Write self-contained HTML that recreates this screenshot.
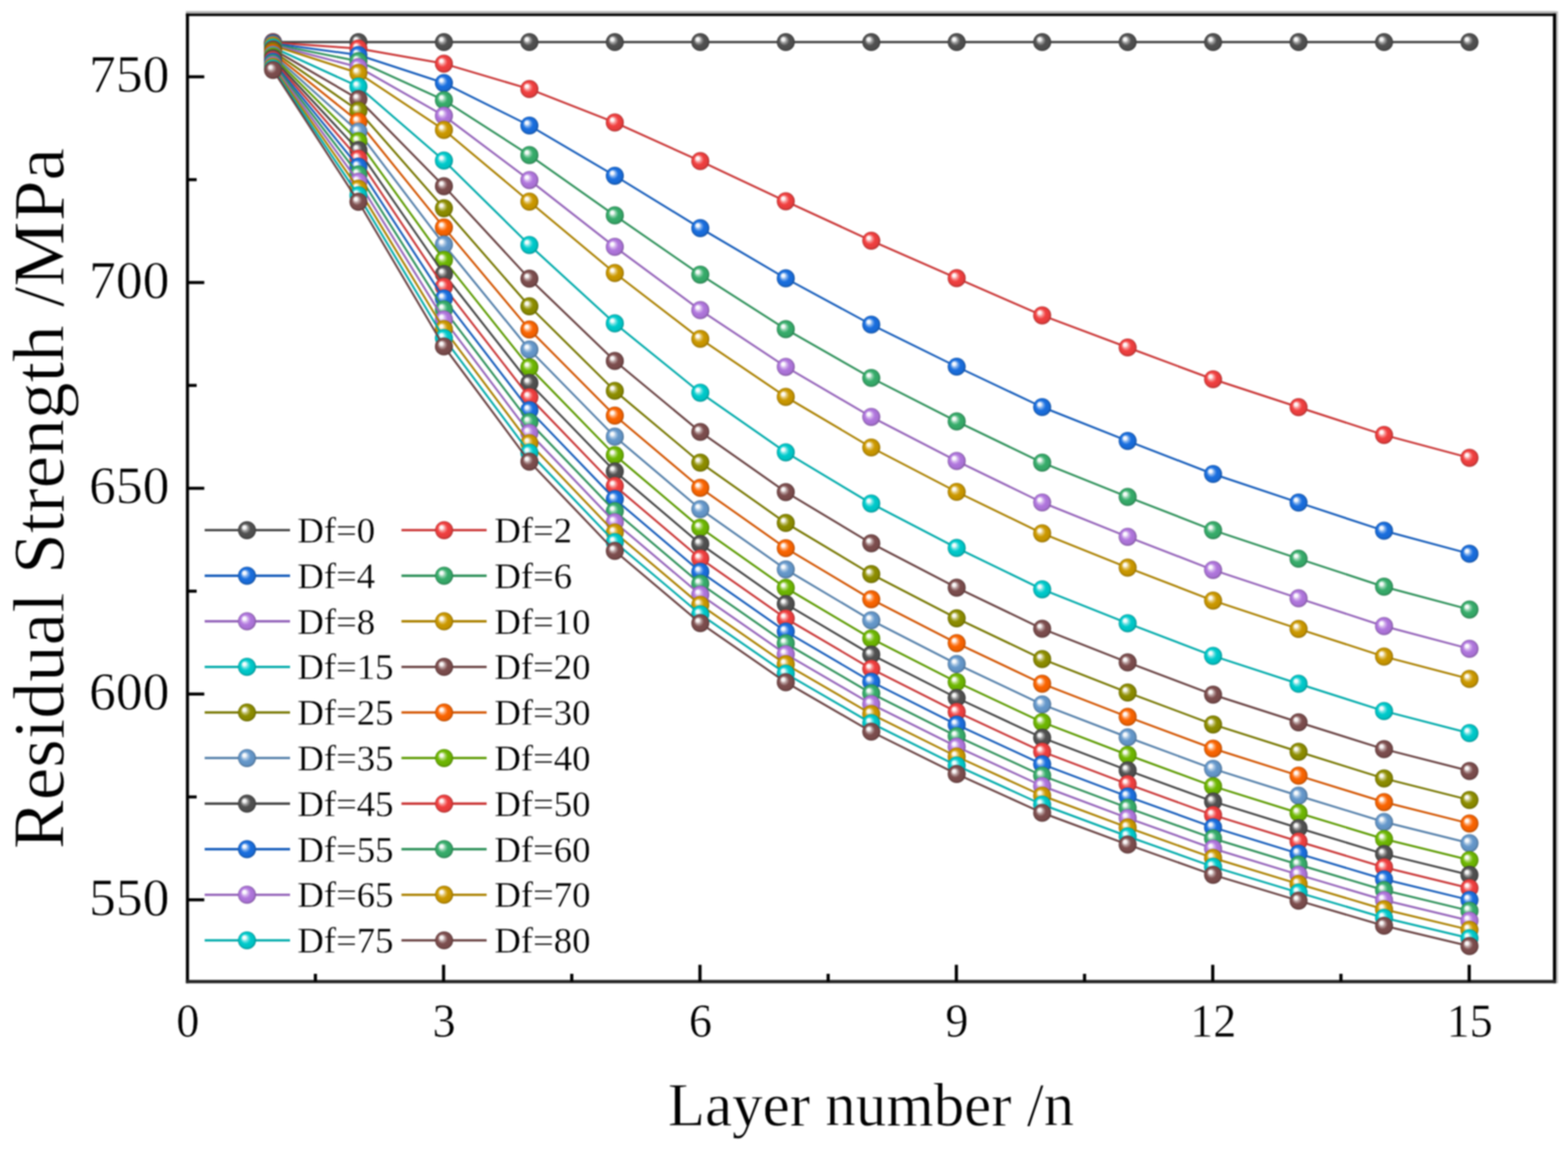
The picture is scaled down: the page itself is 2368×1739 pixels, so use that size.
<!DOCTYPE html>
<html lang="en"><head><meta charset="utf-8"><title>Residual Strength vs Layer number</title>
<style>html,body{margin:0;padding:0;background:#fff}body{width:2368px;height:1739px;overflow:hidden}svg{display:block;filter:blur(0.85px)}#legend text{stroke-width:0.35px}#xlabels text{stroke-width:0.6px}#ytitle{stroke-width:1px}text{font-family:"Liberation Serif","DejaVu Serif",serif;fill:#000;stroke:#fff;stroke-width:0.8px;paint-order:fill stroke}</style></head><body>
<svg width="2368" height="1739" viewBox="0 0 2368 1739">
<defs>
<radialGradient id="g0" cx="0.5" cy="0.5" r="0.5" fx="0.32" fy="0.31"><stop offset="0" stop-color="#f8f8f8"/><stop offset="0.17" stop-color="#f8f8f8"/><stop offset="0.34" stop-color="#9f9f9f"/><stop offset="0.56" stop-color="#515151"/><stop offset="0.85" stop-color="#4c4c4c"/><stop offset="1" stop-color="#393939"/></radialGradient>
<radialGradient id="g1" cx="0.5" cy="0.5" r="0.5" fx="0.32" fy="0.31"><stop offset="0" stop-color="#fef7f7"/><stop offset="0.17" stop-color="#fef7f7"/><stop offset="0.34" stop-color="#f79696"/><stop offset="0.56" stop-color="#F14040"/><stop offset="0.85" stop-color="#e33c3c"/><stop offset="1" stop-color="#a92d2d"/></radialGradient>
<radialGradient id="g2" cx="0.5" cy="0.5" r="0.5" fx="0.32" fy="0.31"><stop offset="0" stop-color="#f6f9fe"/><stop offset="0.17" stop-color="#f6f9fe"/><stop offset="0.34" stop-color="#81b0ed"/><stop offset="0.56" stop-color="#1A6FDF"/><stop offset="0.85" stop-color="#1868d2"/><stop offset="1" stop-color="#124e9c"/></radialGradient>
<radialGradient id="g3" cx="0.5" cy="0.5" r="0.5" fx="0.32" fy="0.31"><stop offset="0" stop-color="#f7fcf9"/><stop offset="0.17" stop-color="#f7fcf9"/><stop offset="0.34" stop-color="#91d2ae"/><stop offset="0.56" stop-color="#37AD6B"/><stop offset="0.85" stop-color="#34a365"/><stop offset="1" stop-color="#26794b"/></radialGradient>
<radialGradient id="g4" cx="0.5" cy="0.5" r="0.5" fx="0.32" fy="0.31"><stop offset="0" stop-color="#fcfafe"/><stop offset="0.17" stop-color="#fcfafe"/><stop offset="0.34" stop-color="#d4b4ed"/><stop offset="0.56" stop-color="#B177DE"/><stop offset="0.85" stop-color="#a670d1"/><stop offset="1" stop-color="#7c539b"/></radialGradient>
<radialGradient id="g5" cx="0.5" cy="0.5" r="0.5" fx="0.32" fy="0.31"><stop offset="0" stop-color="#fdfbf5"/><stop offset="0.17" stop-color="#fdfbf5"/><stop offset="0.34" stop-color="#e3c773"/><stop offset="0.56" stop-color="#CC9900"/><stop offset="0.85" stop-color="#c09000"/><stop offset="1" stop-color="#8f6b00"/></radialGradient>
<radialGradient id="g6" cx="0.5" cy="0.5" r="0.5" fx="0.32" fy="0.31"><stop offset="0" stop-color="#f5fdfd"/><stop offset="0.17" stop-color="#f5fdfd"/><stop offset="0.34" stop-color="#73e2e3"/><stop offset="0.56" stop-color="#00CBCC"/><stop offset="0.85" stop-color="#00bfc0"/><stop offset="1" stop-color="#008e8f"/></radialGradient>
<radialGradient id="g7" cx="0.5" cy="0.5" r="0.5" fx="0.32" fy="0.31"><stop offset="0" stop-color="#faf8f8"/><stop offset="0.17" stop-color="#faf8f8"/><stop offset="0.34" stop-color="#b89e9e"/><stop offset="0.56" stop-color="#7D4E4E"/><stop offset="0.85" stop-color="#764949"/><stop offset="1" stop-color="#583737"/></radialGradient>
<radialGradient id="g8" cx="0.5" cy="0.5" r="0.5" fx="0.32" fy="0.31"><stop offset="0" stop-color="#fafaf5"/><stop offset="0.17" stop-color="#fafaf5"/><stop offset="0.34" stop-color="#c1c173"/><stop offset="0.56" stop-color="#8E8E00"/><stop offset="0.85" stop-color="#858500"/><stop offset="1" stop-color="#636300"/></radialGradient>
<radialGradient id="g9" cx="0.5" cy="0.5" r="0.5" fx="0.32" fy="0.31"><stop offset="0" stop-color="#fff9f5"/><stop offset="0.17" stop-color="#fff9f5"/><stop offset="0.34" stop-color="#fdaa73"/><stop offset="0.56" stop-color="#FB6501"/><stop offset="0.85" stop-color="#ec5f01"/><stop offset="1" stop-color="#b04701"/></radialGradient>
<radialGradient id="g10" cx="0.5" cy="0.5" r="0.5" fx="0.32" fy="0.31"><stop offset="0" stop-color="#f9fbfd"/><stop offset="0.17" stop-color="#f9fbfd"/><stop offset="0.34" stop-color="#abc7e3"/><stop offset="0.56" stop-color="#6699CC"/><stop offset="0.85" stop-color="#6090c0"/><stop offset="1" stop-color="#476b8f"/></radialGradient>
<radialGradient id="g11" cx="0.5" cy="0.5" r="0.5" fx="0.32" fy="0.31"><stop offset="0" stop-color="#f9fcf5"/><stop offset="0.17" stop-color="#f9fcf5"/><stop offset="0.34" stop-color="#b0d874"/><stop offset="0.56" stop-color="#6FB802"/><stop offset="0.85" stop-color="#68ad02"/><stop offset="1" stop-color="#4e8101"/></radialGradient>
</defs>
<rect width="2368" height="1739" fill="#fff"/>
<g id="plot">
<g><polyline fill="none" stroke="#444444" stroke-width="3.6" stroke-linejoin="round" points="412.3,63.5 541.3,63.5 670.4,63.5 799.5,63.5 928.5,63.5 1057.6,63.5 1186.7,63.5 1315.8,63.5 1444.8,63.5 1573.9,63.5 1703.0,63.5 1832.0,63.5 1961.1,63.5 2090.2,63.5 2219.2,63.5"/>
<circle cx="412.3" cy="63.5" r="13.6" fill="url(#g0)"/><circle cx="541.3" cy="63.5" r="13.6" fill="url(#g0)"/><circle cx="670.4" cy="63.5" r="13.6" fill="url(#g0)"/><circle cx="799.5" cy="63.5" r="13.6" fill="url(#g0)"/><circle cx="928.5" cy="63.5" r="13.6" fill="url(#g0)"/><circle cx="1057.6" cy="63.5" r="13.6" fill="url(#g0)"/><circle cx="1186.7" cy="63.5" r="13.6" fill="url(#g0)"/><circle cx="1315.8" cy="63.5" r="13.6" fill="url(#g0)"/><circle cx="1444.8" cy="63.5" r="13.6" fill="url(#g0)"/><circle cx="1573.9" cy="63.5" r="13.6" fill="url(#g0)"/><circle cx="1703.0" cy="63.5" r="13.6" fill="url(#g0)"/><circle cx="1832.0" cy="63.5" r="13.6" fill="url(#g0)"/><circle cx="1961.1" cy="63.5" r="13.6" fill="url(#g0)"/><circle cx="2090.2" cy="63.5" r="13.6" fill="url(#g0)"/><circle cx="2219.2" cy="63.5" r="13.6" fill="url(#g0)"/></g>
<g><polyline fill="none" stroke="#ca3636" stroke-width="3.0" stroke-linejoin="round" points="412.3,64.3 541.3,73.3 670.4,96.1 799.5,134.4 928.5,184.9 1057.6,243.2 1186.7,303.8 1315.8,363.3 1444.8,419.9 1573.9,476.1 1703.0,524.5 1832.0,572.5 1961.1,614.7 2090.2,656.6 2219.2,691.1"/>
<circle cx="412.3" cy="64.3" r="13.6" fill="url(#g1)"/><circle cx="541.3" cy="73.3" r="13.6" fill="url(#g1)"/><circle cx="670.4" cy="96.1" r="13.6" fill="url(#g1)"/><circle cx="799.5" cy="134.4" r="13.6" fill="url(#g1)"/><circle cx="928.5" cy="184.9" r="13.6" fill="url(#g1)"/><circle cx="1057.6" cy="243.2" r="13.6" fill="url(#g1)"/><circle cx="1186.7" cy="303.8" r="13.6" fill="url(#g1)"/><circle cx="1315.8" cy="363.3" r="13.6" fill="url(#g1)"/><circle cx="1444.8" cy="419.9" r="13.6" fill="url(#g1)"/><circle cx="1573.9" cy="476.1" r="13.6" fill="url(#g1)"/><circle cx="1703.0" cy="524.5" r="13.6" fill="url(#g1)"/><circle cx="1832.0" cy="572.5" r="13.6" fill="url(#g1)"/><circle cx="1961.1" cy="614.7" r="13.6" fill="url(#g1)"/><circle cx="2090.2" cy="656.6" r="13.6" fill="url(#g1)"/><circle cx="2219.2" cy="691.1" r="13.6" fill="url(#g1)"/></g>
<g><polyline fill="none" stroke="#165dbb" stroke-width="3.0" stroke-linejoin="round" points="412.3,65.4 541.3,83.0 670.4,125.3 799.5,189.5 928.5,265.3 1057.6,344.4 1186.7,420.2 1315.8,490.0 1444.8,553.5 1573.9,614.5 1703.0,665.6 1832.0,715.5 1961.1,758.7 2090.2,801.2 2219.2,835.9"/>
<circle cx="412.3" cy="65.4" r="13.6" fill="url(#g2)"/><circle cx="541.3" cy="83.0" r="13.6" fill="url(#g2)"/><circle cx="670.4" cy="125.3" r="13.6" fill="url(#g2)"/><circle cx="799.5" cy="189.5" r="13.6" fill="url(#g2)"/><circle cx="928.5" cy="265.3" r="13.6" fill="url(#g2)"/><circle cx="1057.6" cy="344.4" r="13.6" fill="url(#g2)"/><circle cx="1186.7" cy="420.2" r="13.6" fill="url(#g2)"/><circle cx="1315.8" cy="490.0" r="13.6" fill="url(#g2)"/><circle cx="1444.8" cy="553.5" r="13.6" fill="url(#g2)"/><circle cx="1573.9" cy="614.5" r="13.6" fill="url(#g2)"/><circle cx="1703.0" cy="665.6" r="13.6" fill="url(#g2)"/><circle cx="1832.0" cy="715.5" r="13.6" fill="url(#g2)"/><circle cx="1961.1" cy="758.7" r="13.6" fill="url(#g2)"/><circle cx="2090.2" cy="801.2" r="13.6" fill="url(#g2)"/><circle cx="2219.2" cy="835.9" r="13.6" fill="url(#g2)"/></g>
<g><polyline fill="none" stroke="#2e915a" stroke-width="3.0" stroke-linejoin="round" points="412.3,66.6 541.3,92.4 670.4,151.2 799.5,234.2 928.5,325.2 1057.6,414.6 1186.7,496.9 1315.8,570.5 1444.8,636.2 1573.9,698.4 1703.0,750.1 1832.0,800.3 1961.1,843.4 2090.2,885.7 2219.2,920.1"/>
<circle cx="412.3" cy="66.6" r="13.6" fill="url(#g3)"/><circle cx="541.3" cy="92.4" r="13.6" fill="url(#g3)"/><circle cx="670.4" cy="151.2" r="13.6" fill="url(#g3)"/><circle cx="799.5" cy="234.2" r="13.6" fill="url(#g3)"/><circle cx="928.5" cy="325.2" r="13.6" fill="url(#g3)"/><circle cx="1057.6" cy="414.6" r="13.6" fill="url(#g3)"/><circle cx="1186.7" cy="496.9" r="13.6" fill="url(#g3)"/><circle cx="1315.8" cy="570.5" r="13.6" fill="url(#g3)"/><circle cx="1444.8" cy="636.2" r="13.6" fill="url(#g3)"/><circle cx="1573.9" cy="698.4" r="13.6" fill="url(#g3)"/><circle cx="1703.0" cy="750.1" r="13.6" fill="url(#g3)"/><circle cx="1832.0" cy="800.3" r="13.6" fill="url(#g3)"/><circle cx="1961.1" cy="843.4" r="13.6" fill="url(#g3)"/><circle cx="2090.2" cy="885.7" r="13.6" fill="url(#g3)"/><circle cx="2219.2" cy="920.1" r="13.6" fill="url(#g3)"/></g>
<g><polyline fill="none" stroke="#9564ba" stroke-width="3.0" stroke-linejoin="round" points="412.3,67.7 541.3,101.4 670.4,174.7 799.5,271.8 928.5,372.7 1057.6,468.2 1186.7,553.8 1315.8,629.3 1444.8,695.9 1573.9,758.5 1703.0,810.3 1832.0,860.3 1961.1,903.2 2090.2,945.2 2219.2,979.4"/>
<circle cx="412.3" cy="67.7" r="13.6" fill="url(#g4)"/><circle cx="541.3" cy="101.4" r="13.6" fill="url(#g4)"/><circle cx="670.4" cy="174.7" r="13.6" fill="url(#g4)"/><circle cx="799.5" cy="271.8" r="13.6" fill="url(#g4)"/><circle cx="928.5" cy="372.7" r="13.6" fill="url(#g4)"/><circle cx="1057.6" cy="468.2" r="13.6" fill="url(#g4)"/><circle cx="1186.7" cy="553.8" r="13.6" fill="url(#g4)"/><circle cx="1315.8" cy="629.3" r="13.6" fill="url(#g4)"/><circle cx="1444.8" cy="695.9" r="13.6" fill="url(#g4)"/><circle cx="1573.9" cy="758.5" r="13.6" fill="url(#g4)"/><circle cx="1703.0" cy="810.3" r="13.6" fill="url(#g4)"/><circle cx="1832.0" cy="860.3" r="13.6" fill="url(#g4)"/><circle cx="1961.1" cy="903.2" r="13.6" fill="url(#g4)"/><circle cx="2090.2" cy="945.2" r="13.6" fill="url(#g4)"/><circle cx="2219.2" cy="979.4" r="13.6" fill="url(#g4)"/></g>
<g><polyline fill="none" stroke="#ab8100" stroke-width="3.0" stroke-linejoin="round" points="412.3,68.8 541.3,110.2 670.4,196.1 799.5,304.3 928.5,412.1 1057.6,511.5 1186.7,599.1 1315.8,675.5 1444.8,742.5 1573.9,805.1 1703.0,856.8 1832.0,906.6 1961.1,949.3 2090.2,991.1 2219.2,1024.9"/>
<circle cx="412.3" cy="68.8" r="13.6" fill="url(#g5)"/><circle cx="541.3" cy="110.2" r="13.6" fill="url(#g5)"/><circle cx="670.4" cy="196.1" r="13.6" fill="url(#g5)"/><circle cx="799.5" cy="304.3" r="13.6" fill="url(#g5)"/><circle cx="928.5" cy="412.1" r="13.6" fill="url(#g5)"/><circle cx="1057.6" cy="511.5" r="13.6" fill="url(#g5)"/><circle cx="1186.7" cy="599.1" r="13.6" fill="url(#g5)"/><circle cx="1315.8" cy="675.5" r="13.6" fill="url(#g5)"/><circle cx="1444.8" cy="742.5" r="13.6" fill="url(#g5)"/><circle cx="1573.9" cy="805.1" r="13.6" fill="url(#g5)"/><circle cx="1703.0" cy="856.8" r="13.6" fill="url(#g5)"/><circle cx="1832.0" cy="906.6" r="13.6" fill="url(#g5)"/><circle cx="1961.1" cy="949.3" r="13.6" fill="url(#g5)"/><circle cx="2090.2" cy="991.1" r="13.6" fill="url(#g5)"/><circle cx="2219.2" cy="1024.9" r="13.6" fill="url(#g5)"/></g>
<g><polyline fill="none" stroke="#00abab" stroke-width="3.0" stroke-linejoin="round" points="412.3,71.6 541.3,130.7 670.4,242.4 799.5,369.8 928.5,488.2 1057.6,592.8 1186.7,682.8 1315.8,760.1 1444.8,827.2 1573.9,889.6 1703.0,940.9 1832.0,990.1 1961.1,1032.2 2090.2,1073.4 2219.2,1106.7"/>
<circle cx="412.3" cy="71.6" r="13.6" fill="url(#g6)"/><circle cx="541.3" cy="130.7" r="13.6" fill="url(#g6)"/><circle cx="670.4" cy="242.4" r="13.6" fill="url(#g6)"/><circle cx="799.5" cy="369.8" r="13.6" fill="url(#g6)"/><circle cx="928.5" cy="488.2" r="13.6" fill="url(#g6)"/><circle cx="1057.6" cy="592.8" r="13.6" fill="url(#g6)"/><circle cx="1186.7" cy="682.8" r="13.6" fill="url(#g6)"/><circle cx="1315.8" cy="760.1" r="13.6" fill="url(#g6)"/><circle cx="1444.8" cy="827.2" r="13.6" fill="url(#g6)"/><circle cx="1573.9" cy="889.6" r="13.6" fill="url(#g6)"/><circle cx="1703.0" cy="940.9" r="13.6" fill="url(#g6)"/><circle cx="1832.0" cy="990.1" r="13.6" fill="url(#g6)"/><circle cx="1961.1" cy="1032.2" r="13.6" fill="url(#g6)"/><circle cx="2090.2" cy="1073.4" r="13.6" fill="url(#g6)"/><circle cx="2219.2" cy="1106.7" r="13.6" fill="url(#g6)"/></g>
<g><polyline fill="none" stroke="#694242" stroke-width="3.0" stroke-linejoin="round" points="412.3,74.4 541.3,149.6 670.4,281.1 799.5,420.7 928.5,544.9 1057.6,652.0 1186.7,742.8 1315.8,820.2 1444.8,887.1 1573.9,949.1 1703.0,999.9 1832.0,1048.7 1961.1,1090.3 2090.2,1130.9 2219.2,1163.8"/>
<circle cx="412.3" cy="74.4" r="13.6" fill="url(#g7)"/><circle cx="541.3" cy="149.6" r="13.6" fill="url(#g7)"/><circle cx="670.4" cy="281.1" r="13.6" fill="url(#g7)"/><circle cx="799.5" cy="420.7" r="13.6" fill="url(#g7)"/><circle cx="928.5" cy="544.9" r="13.6" fill="url(#g7)"/><circle cx="1057.6" cy="652.0" r="13.6" fill="url(#g7)"/><circle cx="1186.7" cy="742.8" r="13.6" fill="url(#g7)"/><circle cx="1315.8" cy="820.2" r="13.6" fill="url(#g7)"/><circle cx="1444.8" cy="887.1" r="13.6" fill="url(#g7)"/><circle cx="1573.9" cy="949.1" r="13.6" fill="url(#g7)"/><circle cx="1703.0" cy="999.9" r="13.6" fill="url(#g7)"/><circle cx="1832.0" cy="1048.7" r="13.6" fill="url(#g7)"/><circle cx="1961.1" cy="1090.3" r="13.6" fill="url(#g7)"/><circle cx="2090.2" cy="1130.9" r="13.6" fill="url(#g7)"/><circle cx="2219.2" cy="1163.8" r="13.6" fill="url(#g7)"/></g>
<g><polyline fill="none" stroke="#777700" stroke-width="3.0" stroke-linejoin="round" points="412.3,77.2 541.3,167.1 670.4,314.3 799.5,462.3 928.5,590.0 1057.6,698.3 1186.7,789.4 1315.8,866.7 1444.8,933.3 1573.9,994.9 1703.0,1045.3 1832.0,1093.6 1961.1,1134.8 2090.2,1175.1 2219.2,1207.6"/>
<circle cx="412.3" cy="77.2" r="13.6" fill="url(#g8)"/><circle cx="541.3" cy="167.1" r="13.6" fill="url(#g8)"/><circle cx="670.4" cy="314.3" r="13.6" fill="url(#g8)"/><circle cx="799.5" cy="462.3" r="13.6" fill="url(#g8)"/><circle cx="928.5" cy="590.0" r="13.6" fill="url(#g8)"/><circle cx="1057.6" cy="698.3" r="13.6" fill="url(#g8)"/><circle cx="1186.7" cy="789.4" r="13.6" fill="url(#g8)"/><circle cx="1315.8" cy="866.7" r="13.6" fill="url(#g8)"/><circle cx="1444.8" cy="933.3" r="13.6" fill="url(#g8)"/><circle cx="1573.9" cy="994.9" r="13.6" fill="url(#g8)"/><circle cx="1703.0" cy="1045.3" r="13.6" fill="url(#g8)"/><circle cx="1832.0" cy="1093.6" r="13.6" fill="url(#g8)"/><circle cx="1961.1" cy="1134.8" r="13.6" fill="url(#g8)"/><circle cx="2090.2" cy="1175.1" r="13.6" fill="url(#g8)"/><circle cx="2219.2" cy="1207.6" r="13.6" fill="url(#g8)"/></g>
<g><polyline fill="none" stroke="#d35501" stroke-width="3.0" stroke-linejoin="round" points="412.3,79.9 541.3,183.5 670.4,343.4 799.5,497.4 928.5,627.4 1057.6,736.4 1186.7,827.5 1315.8,904.6 1444.8,970.8 1573.9,1032.1 1703.0,1082.1 1832.0,1130.0 1961.1,1170.9 2090.2,1210.8 2219.2,1243.1"/>
<circle cx="412.3" cy="79.9" r="13.6" fill="url(#g9)"/><circle cx="541.3" cy="183.5" r="13.6" fill="url(#g9)"/><circle cx="670.4" cy="343.4" r="13.6" fill="url(#g9)"/><circle cx="799.5" cy="497.4" r="13.6" fill="url(#g9)"/><circle cx="928.5" cy="627.4" r="13.6" fill="url(#g9)"/><circle cx="1057.6" cy="736.4" r="13.6" fill="url(#g9)"/><circle cx="1186.7" cy="827.5" r="13.6" fill="url(#g9)"/><circle cx="1315.8" cy="904.6" r="13.6" fill="url(#g9)"/><circle cx="1444.8" cy="970.8" r="13.6" fill="url(#g9)"/><circle cx="1573.9" cy="1032.1" r="13.6" fill="url(#g9)"/><circle cx="1703.0" cy="1082.1" r="13.6" fill="url(#g9)"/><circle cx="1832.0" cy="1130.0" r="13.6" fill="url(#g9)"/><circle cx="1961.1" cy="1170.9" r="13.6" fill="url(#g9)"/><circle cx="2090.2" cy="1210.8" r="13.6" fill="url(#g9)"/><circle cx="2219.2" cy="1243.1" r="13.6" fill="url(#g9)"/></g>
<g><polyline fill="none" stroke="#5681ab" stroke-width="3.0" stroke-linejoin="round" points="412.3,82.6 541.3,198.8 670.4,369.2 799.5,527.7 928.5,659.2 1057.6,768.6 1186.7,859.6 1315.8,936.4 1444.8,1002.4 1573.9,1063.3 1703.0,1113.0 1832.0,1160.6 1961.1,1201.2 2090.2,1240.8 2219.2,1272.8"/>
<circle cx="412.3" cy="82.6" r="13.6" fill="url(#g10)"/><circle cx="541.3" cy="198.8" r="13.6" fill="url(#g10)"/><circle cx="670.4" cy="369.2" r="13.6" fill="url(#g10)"/><circle cx="799.5" cy="527.7" r="13.6" fill="url(#g10)"/><circle cx="928.5" cy="659.2" r="13.6" fill="url(#g10)"/><circle cx="1057.6" cy="768.6" r="13.6" fill="url(#g10)"/><circle cx="1186.7" cy="859.6" r="13.6" fill="url(#g10)"/><circle cx="1315.8" cy="936.4" r="13.6" fill="url(#g10)"/><circle cx="1444.8" cy="1002.4" r="13.6" fill="url(#g10)"/><circle cx="1573.9" cy="1063.3" r="13.6" fill="url(#g10)"/><circle cx="1703.0" cy="1113.0" r="13.6" fill="url(#g10)"/><circle cx="1832.0" cy="1160.6" r="13.6" fill="url(#g10)"/><circle cx="1961.1" cy="1201.2" r="13.6" fill="url(#g10)"/><circle cx="2090.2" cy="1240.8" r="13.6" fill="url(#g10)"/><circle cx="2219.2" cy="1272.8" r="13.6" fill="url(#g10)"/></g>
<g><polyline fill="none" stroke="#5d9b02" stroke-width="3.0" stroke-linejoin="round" points="412.3,85.3 541.3,213.1 670.4,392.4 799.5,554.4 928.5,687.0 1057.6,796.5 1186.7,887.4 1315.8,963.9 1444.8,1029.6 1573.9,1090.1 1703.0,1139.5 1832.0,1186.9 1961.1,1227.2 2090.2,1266.5 2219.2,1298.3"/>
<circle cx="412.3" cy="85.3" r="13.6" fill="url(#g11)"/><circle cx="541.3" cy="213.1" r="13.6" fill="url(#g11)"/><circle cx="670.4" cy="392.4" r="13.6" fill="url(#g11)"/><circle cx="799.5" cy="554.4" r="13.6" fill="url(#g11)"/><circle cx="928.5" cy="687.0" r="13.6" fill="url(#g11)"/><circle cx="1057.6" cy="796.5" r="13.6" fill="url(#g11)"/><circle cx="1186.7" cy="887.4" r="13.6" fill="url(#g11)"/><circle cx="1315.8" cy="963.9" r="13.6" fill="url(#g11)"/><circle cx="1444.8" cy="1029.6" r="13.6" fill="url(#g11)"/><circle cx="1573.9" cy="1090.1" r="13.6" fill="url(#g11)"/><circle cx="1703.0" cy="1139.5" r="13.6" fill="url(#g11)"/><circle cx="1832.0" cy="1186.9" r="13.6" fill="url(#g11)"/><circle cx="1961.1" cy="1227.2" r="13.6" fill="url(#g11)"/><circle cx="2090.2" cy="1266.5" r="13.6" fill="url(#g11)"/><circle cx="2219.2" cy="1298.3" r="13.6" fill="url(#g11)"/></g>
<g><polyline fill="none" stroke="#444444" stroke-width="3.0" stroke-linejoin="round" points="412.3,87.9 541.3,226.7 670.4,413.5 799.5,578.2 928.5,711.5 1057.6,821.1 1186.7,911.8 1315.8,988.1 1444.8,1053.5 1573.9,1113.7 1703.0,1162.9 1832.0,1209.9 1961.1,1250.0 2090.2,1289.1 2219.2,1320.7"/>
<circle cx="412.3" cy="87.9" r="13.6" fill="url(#g0)"/><circle cx="541.3" cy="226.7" r="13.6" fill="url(#g0)"/><circle cx="670.4" cy="413.5" r="13.6" fill="url(#g0)"/><circle cx="799.5" cy="578.2" r="13.6" fill="url(#g0)"/><circle cx="928.5" cy="711.5" r="13.6" fill="url(#g0)"/><circle cx="1057.6" cy="821.1" r="13.6" fill="url(#g0)"/><circle cx="1186.7" cy="911.8" r="13.6" fill="url(#g0)"/><circle cx="1315.8" cy="988.1" r="13.6" fill="url(#g0)"/><circle cx="1444.8" cy="1053.5" r="13.6" fill="url(#g0)"/><circle cx="1573.9" cy="1113.7" r="13.6" fill="url(#g0)"/><circle cx="1703.0" cy="1162.9" r="13.6" fill="url(#g0)"/><circle cx="1832.0" cy="1209.9" r="13.6" fill="url(#g0)"/><circle cx="1961.1" cy="1250.0" r="13.6" fill="url(#g0)"/><circle cx="2090.2" cy="1289.1" r="13.6" fill="url(#g0)"/><circle cx="2219.2" cy="1320.7" r="13.6" fill="url(#g0)"/></g>
<g><polyline fill="none" stroke="#ca3636" stroke-width="3.0" stroke-linejoin="round" points="412.3,90.5 541.3,239.5 670.4,432.8 799.5,599.6 928.5,733.5 1057.6,843.1 1186.7,933.6 1315.8,1009.6 1444.8,1074.7 1573.9,1134.7 1703.0,1183.6 1832.0,1230.4 1961.1,1270.3 2090.2,1309.2 2219.2,1340.7"/>
<circle cx="412.3" cy="90.5" r="13.6" fill="url(#g1)"/><circle cx="541.3" cy="239.5" r="13.6" fill="url(#g1)"/><circle cx="670.4" cy="432.8" r="13.6" fill="url(#g1)"/><circle cx="799.5" cy="599.6" r="13.6" fill="url(#g1)"/><circle cx="928.5" cy="733.5" r="13.6" fill="url(#g1)"/><circle cx="1057.6" cy="843.1" r="13.6" fill="url(#g1)"/><circle cx="1186.7" cy="933.6" r="13.6" fill="url(#g1)"/><circle cx="1315.8" cy="1009.6" r="13.6" fill="url(#g1)"/><circle cx="1444.8" cy="1074.7" r="13.6" fill="url(#g1)"/><circle cx="1573.9" cy="1134.7" r="13.6" fill="url(#g1)"/><circle cx="1703.0" cy="1183.6" r="13.6" fill="url(#g1)"/><circle cx="1832.0" cy="1230.4" r="13.6" fill="url(#g1)"/><circle cx="1961.1" cy="1270.3" r="13.6" fill="url(#g1)"/><circle cx="2090.2" cy="1309.2" r="13.6" fill="url(#g1)"/><circle cx="2219.2" cy="1340.7" r="13.6" fill="url(#g1)"/></g>
<g><polyline fill="none" stroke="#165dbb" stroke-width="3.0" stroke-linejoin="round" points="412.3,93.1 541.3,251.7 670.4,450.6 799.5,619.2 928.5,753.4 1057.6,863.0 1186.7,953.3 1315.8,1029.0 1444.8,1093.9 1573.9,1153.6 1703.0,1202.3 1832.0,1248.9 1961.1,1288.6 2090.2,1327.3 2219.2,1358.6"/>
<circle cx="412.3" cy="93.1" r="13.6" fill="url(#g2)"/><circle cx="541.3" cy="251.7" r="13.6" fill="url(#g2)"/><circle cx="670.4" cy="450.6" r="13.6" fill="url(#g2)"/><circle cx="799.5" cy="619.2" r="13.6" fill="url(#g2)"/><circle cx="928.5" cy="753.4" r="13.6" fill="url(#g2)"/><circle cx="1057.6" cy="863.0" r="13.6" fill="url(#g2)"/><circle cx="1186.7" cy="953.3" r="13.6" fill="url(#g2)"/><circle cx="1315.8" cy="1029.0" r="13.6" fill="url(#g2)"/><circle cx="1444.8" cy="1093.9" r="13.6" fill="url(#g2)"/><circle cx="1573.9" cy="1153.6" r="13.6" fill="url(#g2)"/><circle cx="1703.0" cy="1202.3" r="13.6" fill="url(#g2)"/><circle cx="1832.0" cy="1248.9" r="13.6" fill="url(#g2)"/><circle cx="1961.1" cy="1288.6" r="13.6" fill="url(#g2)"/><circle cx="2090.2" cy="1327.3" r="13.6" fill="url(#g2)"/><circle cx="2219.2" cy="1358.6" r="13.6" fill="url(#g2)"/></g>
<g><polyline fill="none" stroke="#2e915a" stroke-width="3.0" stroke-linejoin="round" points="412.3,95.6 541.3,263.3 670.4,467.1 799.5,637.1 928.5,771.6 1057.6,881.1 1186.7,971.1 1315.8,1046.6 1444.8,1111.3 1573.9,1170.8 1703.0,1219.3 1832.0,1265.7 1961.1,1305.2 2090.2,1343.7 2219.2,1374.9"/>
<circle cx="412.3" cy="95.6" r="13.6" fill="url(#g3)"/><circle cx="541.3" cy="263.3" r="13.6" fill="url(#g3)"/><circle cx="670.4" cy="467.1" r="13.6" fill="url(#g3)"/><circle cx="799.5" cy="637.1" r="13.6" fill="url(#g3)"/><circle cx="928.5" cy="771.6" r="13.6" fill="url(#g3)"/><circle cx="1057.6" cy="881.1" r="13.6" fill="url(#g3)"/><circle cx="1186.7" cy="971.1" r="13.6" fill="url(#g3)"/><circle cx="1315.8" cy="1046.6" r="13.6" fill="url(#g3)"/><circle cx="1444.8" cy="1111.3" r="13.6" fill="url(#g3)"/><circle cx="1573.9" cy="1170.8" r="13.6" fill="url(#g3)"/><circle cx="1703.0" cy="1219.3" r="13.6" fill="url(#g3)"/><circle cx="1832.0" cy="1265.7" r="13.6" fill="url(#g3)"/><circle cx="1961.1" cy="1305.2" r="13.6" fill="url(#g3)"/><circle cx="2090.2" cy="1343.7" r="13.6" fill="url(#g3)"/><circle cx="2219.2" cy="1374.9" r="13.6" fill="url(#g3)"/></g>
<g><polyline fill="none" stroke="#9564ba" stroke-width="3.0" stroke-linejoin="round" points="412.3,98.2 541.3,274.3 670.4,482.4 799.5,653.6 928.5,788.3 1057.6,897.7 1186.7,987.5 1315.8,1062.8 1444.8,1127.2 1573.9,1186.5 1703.0,1234.8 1832.0,1281.0 1961.1,1320.4 2090.2,1358.8 2219.2,1389.8"/>
<circle cx="412.3" cy="98.2" r="13.6" fill="url(#g4)"/><circle cx="541.3" cy="274.3" r="13.6" fill="url(#g4)"/><circle cx="670.4" cy="482.4" r="13.6" fill="url(#g4)"/><circle cx="799.5" cy="653.6" r="13.6" fill="url(#g4)"/><circle cx="928.5" cy="788.3" r="13.6" fill="url(#g4)"/><circle cx="1057.6" cy="897.7" r="13.6" fill="url(#g4)"/><circle cx="1186.7" cy="987.5" r="13.6" fill="url(#g4)"/><circle cx="1315.8" cy="1062.8" r="13.6" fill="url(#g4)"/><circle cx="1444.8" cy="1127.2" r="13.6" fill="url(#g4)"/><circle cx="1573.9" cy="1186.5" r="13.6" fill="url(#g4)"/><circle cx="1703.0" cy="1234.8" r="13.6" fill="url(#g4)"/><circle cx="1832.0" cy="1281.0" r="13.6" fill="url(#g4)"/><circle cx="1961.1" cy="1320.4" r="13.6" fill="url(#g4)"/><circle cx="2090.2" cy="1358.8" r="13.6" fill="url(#g4)"/><circle cx="2219.2" cy="1389.8" r="13.6" fill="url(#g4)"/></g>
<g><polyline fill="none" stroke="#ab8100" stroke-width="3.0" stroke-linejoin="round" points="412.3,100.7 541.3,284.9 670.4,496.8 799.5,669.0 928.5,803.8 1057.6,913.0 1186.7,1002.7 1315.8,1077.8 1444.8,1142.0 1573.9,1201.0 1703.0,1249.2 1832.0,1295.2 1961.1,1334.4 2090.2,1372.7 2219.2,1403.6"/>
<circle cx="412.3" cy="100.7" r="13.6" fill="url(#g5)"/><circle cx="541.3" cy="284.9" r="13.6" fill="url(#g5)"/><circle cx="670.4" cy="496.8" r="13.6" fill="url(#g5)"/><circle cx="799.5" cy="669.0" r="13.6" fill="url(#g5)"/><circle cx="928.5" cy="803.8" r="13.6" fill="url(#g5)"/><circle cx="1057.6" cy="913.0" r="13.6" fill="url(#g5)"/><circle cx="1186.7" cy="1002.7" r="13.6" fill="url(#g5)"/><circle cx="1315.8" cy="1077.8" r="13.6" fill="url(#g5)"/><circle cx="1444.8" cy="1142.0" r="13.6" fill="url(#g5)"/><circle cx="1573.9" cy="1201.0" r="13.6" fill="url(#g5)"/><circle cx="1703.0" cy="1249.2" r="13.6" fill="url(#g5)"/><circle cx="1832.0" cy="1295.2" r="13.6" fill="url(#g5)"/><circle cx="1961.1" cy="1334.4" r="13.6" fill="url(#g5)"/><circle cx="2090.2" cy="1372.7" r="13.6" fill="url(#g5)"/><circle cx="2219.2" cy="1403.6" r="13.6" fill="url(#g5)"/></g>
<g><polyline fill="none" stroke="#00abab" stroke-width="3.0" stroke-linejoin="round" points="412.3,103.1 541.3,294.9 670.4,510.3 799.5,683.4 928.5,818.3 1057.6,927.3 1186.7,1016.8 1315.8,1091.6 1444.8,1155.6 1573.9,1214.5 1703.0,1262.5 1832.0,1308.4 1961.1,1347.4 2090.2,1385.5 2219.2,1416.3"/>
<circle cx="412.3" cy="103.1" r="13.6" fill="url(#g6)"/><circle cx="541.3" cy="294.9" r="13.6" fill="url(#g6)"/><circle cx="670.4" cy="510.3" r="13.6" fill="url(#g6)"/><circle cx="799.5" cy="683.4" r="13.6" fill="url(#g6)"/><circle cx="928.5" cy="818.3" r="13.6" fill="url(#g6)"/><circle cx="1057.6" cy="927.3" r="13.6" fill="url(#g6)"/><circle cx="1186.7" cy="1016.8" r="13.6" fill="url(#g6)"/><circle cx="1315.8" cy="1091.6" r="13.6" fill="url(#g6)"/><circle cx="1444.8" cy="1155.6" r="13.6" fill="url(#g6)"/><circle cx="1573.9" cy="1214.5" r="13.6" fill="url(#g6)"/><circle cx="1703.0" cy="1262.5" r="13.6" fill="url(#g6)"/><circle cx="1832.0" cy="1308.4" r="13.6" fill="url(#g6)"/><circle cx="1961.1" cy="1347.4" r="13.6" fill="url(#g6)"/><circle cx="2090.2" cy="1385.5" r="13.6" fill="url(#g6)"/><circle cx="2219.2" cy="1416.3" r="13.6" fill="url(#g6)"/></g>
<g><polyline fill="none" stroke="#694242" stroke-width="3.0" stroke-linejoin="round" points="412.3,105.6 541.3,304.6 670.4,523.0 799.5,696.8 928.5,831.7 1057.6,940.6 1186.7,1029.9 1315.8,1104.5 1444.8,1168.4 1573.9,1227.0 1703.0,1274.9 1832.0,1320.6 1961.1,1359.6 2090.2,1397.5 2219.2,1428.2"/>
<circle cx="412.3" cy="105.6" r="13.6" fill="url(#g7)"/><circle cx="541.3" cy="304.6" r="13.6" fill="url(#g7)"/><circle cx="670.4" cy="523.0" r="13.6" fill="url(#g7)"/><circle cx="799.5" cy="696.8" r="13.6" fill="url(#g7)"/><circle cx="928.5" cy="831.7" r="13.6" fill="url(#g7)"/><circle cx="1057.6" cy="940.6" r="13.6" fill="url(#g7)"/><circle cx="1186.7" cy="1029.9" r="13.6" fill="url(#g7)"/><circle cx="1315.8" cy="1104.5" r="13.6" fill="url(#g7)"/><circle cx="1444.8" cy="1168.4" r="13.6" fill="url(#g7)"/><circle cx="1573.9" cy="1227.0" r="13.6" fill="url(#g7)"/><circle cx="1703.0" cy="1274.9" r="13.6" fill="url(#g7)"/><circle cx="1832.0" cy="1320.6" r="13.6" fill="url(#g7)"/><circle cx="1961.1" cy="1359.6" r="13.6" fill="url(#g7)"/><circle cx="2090.2" cy="1397.5" r="13.6" fill="url(#g7)"/><circle cx="2219.2" cy="1428.2" r="13.6" fill="url(#g7)"/></g>
</g>
<g id="legend" font-size="55.5">
<line x1="309.1" y1="800.3" x2="438.0" y2="800.3" stroke="#444444" stroke-width="3.6"/><circle cx="373.0" cy="800.3" r="13.6" fill="url(#g0)"/><text x="449.0" y="818.9">Df=0</text>
<line x1="606.3" y1="800.3" x2="734.9" y2="800.3" stroke="#ca3636" stroke-width="3.6"/><circle cx="670.7" cy="800.3" r="13.6" fill="url(#g1)"/><text x="746.5" y="818.9">Df=2</text>
<line x1="309.1" y1="869.1" x2="438.0" y2="869.1" stroke="#165dbb" stroke-width="3.6"/><circle cx="373.0" cy="869.1" r="13.6" fill="url(#g2)"/><text x="449.0" y="887.7">Df=4</text>
<line x1="606.3" y1="869.1" x2="734.9" y2="869.1" stroke="#2e915a" stroke-width="3.6"/><circle cx="670.7" cy="869.1" r="13.6" fill="url(#g3)"/><text x="746.5" y="887.7">Df=6</text>
<line x1="309.1" y1="937.9" x2="438.0" y2="937.9" stroke="#9564ba" stroke-width="3.6"/><circle cx="373.0" cy="937.9" r="13.6" fill="url(#g4)"/><text x="449.0" y="956.5">Df=8</text>
<line x1="606.3" y1="937.9" x2="734.9" y2="937.9" stroke="#ab8100" stroke-width="3.6"/><circle cx="670.7" cy="937.9" r="13.6" fill="url(#g5)"/><text x="746.5" y="956.5">Df=10</text>
<line x1="309.1" y1="1006.7" x2="438.0" y2="1006.7" stroke="#00abab" stroke-width="3.6"/><circle cx="373.0" cy="1006.7" r="13.6" fill="url(#g6)"/><text x="449.0" y="1025.3">Df=15</text>
<line x1="606.3" y1="1006.7" x2="734.9" y2="1006.7" stroke="#694242" stroke-width="3.6"/><circle cx="670.7" cy="1006.7" r="13.6" fill="url(#g7)"/><text x="746.5" y="1025.3">Df=20</text>
<line x1="309.1" y1="1075.5" x2="438.0" y2="1075.5" stroke="#777700" stroke-width="3.6"/><circle cx="373.0" cy="1075.5" r="13.6" fill="url(#g8)"/><text x="449.0" y="1094.1">Df=25</text>
<line x1="606.3" y1="1075.5" x2="734.9" y2="1075.5" stroke="#d35501" stroke-width="3.6"/><circle cx="670.7" cy="1075.5" r="13.6" fill="url(#g9)"/><text x="746.5" y="1094.1">Df=30</text>
<line x1="309.1" y1="1144.3" x2="438.0" y2="1144.3" stroke="#5681ab" stroke-width="3.6"/><circle cx="373.0" cy="1144.3" r="13.6" fill="url(#g10)"/><text x="449.0" y="1162.9">Df=35</text>
<line x1="606.3" y1="1144.3" x2="734.9" y2="1144.3" stroke="#5d9b02" stroke-width="3.6"/><circle cx="670.7" cy="1144.3" r="13.6" fill="url(#g11)"/><text x="746.5" y="1162.9">Df=40</text>
<line x1="309.1" y1="1213.1" x2="438.0" y2="1213.1" stroke="#444444" stroke-width="3.6"/><circle cx="373.0" cy="1213.1" r="13.6" fill="url(#g0)"/><text x="449.0" y="1231.7">Df=45</text>
<line x1="606.3" y1="1213.1" x2="734.9" y2="1213.1" stroke="#ca3636" stroke-width="3.6"/><circle cx="670.7" cy="1213.1" r="13.6" fill="url(#g1)"/><text x="746.5" y="1231.7">Df=50</text>
<line x1="309.1" y1="1281.9" x2="438.0" y2="1281.9" stroke="#165dbb" stroke-width="3.6"/><circle cx="373.0" cy="1281.9" r="13.6" fill="url(#g2)"/><text x="449.0" y="1300.5">Df=55</text>
<line x1="606.3" y1="1281.9" x2="734.9" y2="1281.9" stroke="#2e915a" stroke-width="3.6"/><circle cx="670.7" cy="1281.9" r="13.6" fill="url(#g3)"/><text x="746.5" y="1300.5">Df=60</text>
<line x1="309.1" y1="1350.7" x2="438.0" y2="1350.7" stroke="#9564ba" stroke-width="3.6"/><circle cx="373.0" cy="1350.7" r="13.6" fill="url(#g4)"/><text x="449.0" y="1369.3">Df=65</text>
<line x1="606.3" y1="1350.7" x2="734.9" y2="1350.7" stroke="#ab8100" stroke-width="3.6"/><circle cx="670.7" cy="1350.7" r="13.6" fill="url(#g5)"/><text x="746.5" y="1369.3">Df=70</text>
<line x1="309.1" y1="1419.5" x2="438.0" y2="1419.5" stroke="#00abab" stroke-width="3.6"/><circle cx="373.0" cy="1419.5" r="13.6" fill="url(#g6)"/><text x="449.0" y="1438.1">Df=75</text>
<line x1="606.3" y1="1419.5" x2="734.9" y2="1419.5" stroke="#694242" stroke-width="3.6"/><circle cx="670.7" cy="1419.5" r="13.6" fill="url(#g7)"/><text x="746.5" y="1438.1">Df=80</text>
</g>
<g id="axes" stroke="#000" fill="none">
<line x1="280.70000000000005" y1="18.6" x2="2350.0" y2="18.6" stroke="#b4b4b4" stroke-width="3.8"/>
<line x1="2351.5" y1="17" x2="2351.5" y2="1484.2" stroke="#c0c0c0" stroke-width="3"/>
<line x1="280.75" y1="22.4" x2="2349.95" y2="22.4" stroke-width="3.9"/>
<line x1="283.1" y1="20.5" x2="283.1" y2="1484.2" stroke-width="4.7"/>
<line x1="2347.6" y1="20.5" x2="2347.6" y2="1484.2" stroke-width="4.7"/>
<line x1="280.75" y1="1481.8" x2="2349.95" y2="1481.8" stroke="#262626" stroke-width="4.9"/>
<line x1="283.1" y1="1358.3" x2="308.5" y2="1358.3" stroke-width="4.6"/>
<line x1="283.1" y1="1047.7" x2="308.5" y2="1047.7" stroke-width="4.6"/>
<line x1="283.1" y1="737.1" x2="308.5" y2="737.1" stroke-width="4.6"/>
<line x1="283.1" y1="426.5" x2="308.5" y2="426.5" stroke-width="4.6"/>
<line x1="283.1" y1="115.9" x2="308.5" y2="115.9" stroke-width="4.6"/>
<line x1="283.1" y1="1203.0" x2="297" y2="1203.0" stroke-width="4.6"/>
<line x1="283.1" y1="892.4" x2="297" y2="892.4" stroke-width="4.6"/>
<line x1="283.1" y1="581.8" x2="297" y2="581.8" stroke-width="4.6"/>
<line x1="283.1" y1="271.2" x2="297" y2="271.2" stroke-width="4.6"/>
<line x1="669.9" y1="1481.8" x2="669.9" y2="1456.4" stroke-width="4.8"/>
<line x1="1057.1" y1="1481.8" x2="1057.1" y2="1456.4" stroke-width="4.8"/>
<line x1="1444.3" y1="1481.8" x2="1444.3" y2="1456.4" stroke-width="4.8"/>
<line x1="1831.5" y1="1481.8" x2="1831.5" y2="1456.4" stroke-width="4.8"/>
<line x1="2218.8" y1="1481.8" x2="2218.8" y2="1456.4" stroke-width="4.8"/>
<line x1="476.3" y1="1481.8" x2="476.3" y2="1470" stroke-width="4.8"/>
<line x1="863.5" y1="1481.8" x2="863.5" y2="1470" stroke-width="4.8"/>
<line x1="1250.7" y1="1481.8" x2="1250.7" y2="1470" stroke-width="4.8"/>
<line x1="1637.9" y1="1481.8" x2="1637.9" y2="1470" stroke-width="4.8"/>
<line x1="2025.1" y1="1481.8" x2="2025.1" y2="1470" stroke-width="4.8"/>
</g>
<g id="ylabels" font-size="80.8" text-anchor="end">
<text x="255.8" y="1381.5">550</text>
<text x="255.8" y="1070.9">600</text>
<text x="255.8" y="760.3">650</text>
<text x="255.8" y="449.7">700</text>
<text x="255.8" y="139.1">750</text>
</g>
<g id="xlabels" font-size="72" text-anchor="middle">
<text transform="translate(283.5,1565.3) scale(0.965,1)">0</text>
<text transform="translate(670.7,1565.3) scale(0.965,1)">3</text>
<text transform="translate(1057.9,1565.3) scale(0.965,1)">6</text>
<text transform="translate(1445.1,1565.3) scale(0.965,1)">9</text>
<text transform="translate(1832.3,1565.3) scale(0.965,1)">12</text>
<text transform="translate(2219.6,1565.3) scale(0.965,1)">15</text>
</g>
<text id="xtitle" x="1008.6" y="1698.8" font-size="92.1">Layer number /n</text>
<text id="ytitle" transform="translate(96.2,1282) rotate(-90)" font-size="110.8">Residual Strength /MPa</text>
</svg></body></html>
